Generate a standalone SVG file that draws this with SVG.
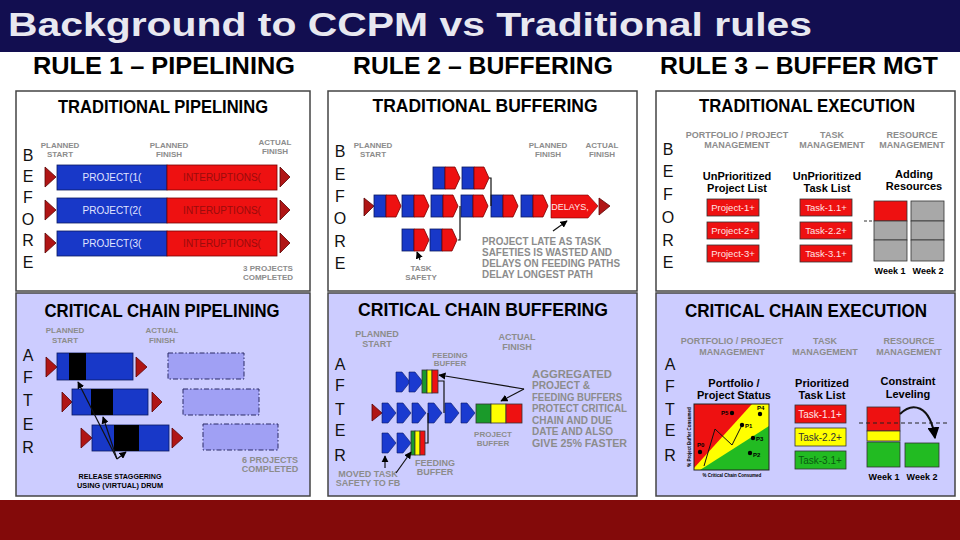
<svg xmlns="http://www.w3.org/2000/svg" width="960" height="540" viewBox="0 0 960 540">
<style>
text{font-family:"Liberation Sans",Arial,sans-serif;}
.ttl{font-weight:bold;fill:#000;text-anchor:middle;font-size:19px;}
.rule{font-weight:bold;fill:#000;font-size:23px;}
.g{font-weight:bold;fill:#8c8c8c;text-anchor:middle;font-size:8px;}
.g9{font-weight:bold;fill:#8c8c8c;text-anchor:middle;font-size:9px;}
.gl{font-weight:bold;fill:#8c8c8c;font-size:10px;}
.bl{font-weight:bold;fill:#000;text-anchor:middle;font-size:11px;}
.wk{font-weight:bold;fill:#000;text-anchor:middle;font-size:9px;}
.let{font-size:16px;fill:#111;text-anchor:middle;}
.pw{fill:#fff;stroke:#444;stroke-width:1.5;}
.pl{fill:#ccccff;stroke:#444;stroke-width:1.5;}
.blue{fill:#1838c8;stroke:#0a1a60;stroke-width:0.8;}
.red{fill:#ee1111;stroke:#700;stroke-width:0.8;}
.dtri{fill:#b01515;stroke:#5a0505;stroke-width:0.8;}
.blk{fill:#000;}
.ln{fill:none;stroke:#111;stroke-width:1.2;}
.sm{font-size:10px;text-anchor:middle;}
.dd{fill:#a0a0f4;stroke:#2a2a66;stroke-width:1;stroke-dasharray:5 2 1.5 2;}
.gray{fill:#a8a8a8;stroke:#333;stroke-width:0.8;}
.bx{stroke:#333;stroke-width:0.8;}
.pt{font-weight:bold;font-size:6px;fill:#000;}
</style>
<defs>
<marker id="ah" viewBox="0 0 10 10" refX="9" refY="5" markerWidth="6" markerHeight="6" orient="auto"><path d="M0,0 L10,5 L0,10 z" fill="#000"/></marker>
<g id="tb"><rect x="0" y="0" width="12" height="22" class="blue"/><path d="M12,0 H22 L27,11 L22,22 H12 Z" class="red"/></g>
<path id="chev" d="M0,0 H6 L14,10 L6,20 H0 Z" fill="#1a3ad0" stroke="#0a1a60" stroke-width="0.6"/>
</defs>

<!-- header -->
<rect x="0" y="0" width="960" height="52" fill="#120e50"/>
<text x="8" y="36" font-size="33" font-weight="bold" fill="#e8e8f0" textLength="804" lengthAdjust="spacingAndGlyphs">Background to CCPM vs Traditional rules</text>
<rect x="0" y="52" width="960" height="448" fill="#fff"/>
<text class="rule" x="33" y="74" textLength="262" lengthAdjust="spacingAndGlyphs">RULE 1 – PIPELINING</text>
<text class="rule" x="353" y="74" textLength="260" lengthAdjust="spacingAndGlyphs">RULE 2 – BUFFERING</text>
<text class="rule" x="660" y="74" textLength="278" lengthAdjust="spacingAndGlyphs">RULE 3 – BUFFER MGT</text>
<rect x="0" y="500" width="960" height="40" fill="#830a0a"/>

<!-- ============ TOP LEFT: TRADITIONAL PIPELINING ============ -->
<g id="trad-pipelining">
<rect class="pw" x="16" y="91" width="294" height="200"/>
<text class="ttl" x="163" y="113" textLength="210" lengthAdjust="spacingAndGlyphs">TRADITIONAL PIPELINING</text>
<g class="let"><text x="28" y="161">B</text><text x="28" y="182">E</text><text x="28" y="203">F</text><text x="28" y="225">O</text><text x="28" y="246">R</text><text x="28" y="268">E</text></g>
<text class="g" x="60" y="148">PLANNED</text><text class="g" x="60" y="157">START</text>
<text class="g" x="169" y="148">PLANNED</text><text class="g" x="169" y="157">FINISH</text>
<text class="g" x="275" y="145">ACTUAL</text><text class="g" x="275" y="154">FINISH</text>
<g id="tp-row1"><path class="dtri" d="M45,167 L56,177 L45,187 Z"/><rect class="blue" x="57" y="165" width="110" height="25"/><rect class="red" x="167" y="165" width="110" height="25"/><path class="dtri" d="M280,167 L290,177 L280,187 Z"/>
<text class="sm" x="112" y="181" fill="#e0e4ff">PROJECT(1(</text><text class="sm" x="222" y="181" fill="#9a0c0c">INTERUPTIONS(</text></g>
<g id="tp-row2"><path class="dtri" d="M45,200 L56,210 L45,220 Z"/><rect class="blue" x="57" y="198" width="110" height="25"/><rect class="red" x="167" y="198" width="110" height="25"/><path class="dtri" d="M280,200 L290,210 L280,220 Z"/>
<text class="sm" x="112" y="214" fill="#e0e4ff">PROJECT(2(</text><text class="sm" x="222" y="214" fill="#9a0c0c">INTERUPTIONS(</text></g>
<g id="tp-row3"><path class="dtri" d="M45,233 L56,243 L45,253 Z"/><rect class="blue" x="57" y="231" width="110" height="25"/><rect class="red" x="167" y="231" width="110" height="25"/><path class="dtri" d="M280,233 L290,243 L280,253 Z"/>
<text class="sm" x="112" y="247" fill="#e0e4ff">PROJECT(3(</text><text class="sm" x="222" y="247" fill="#9a0c0c">INTERUPTIONS(</text></g>
<text class="g" x="268" y="271">3 PROJECTS</text><text class="g" x="268" y="280">COMPLETED</text>
</g>

<!-- ============ TOP MIDDLE: TRADITIONAL BUFFERING ============ -->
<g id="trad-buffering">
<rect class="pw" x="328" y="91" width="309" height="200"/>
<text class="ttl" x="485" y="112" textLength="225" lengthAdjust="spacingAndGlyphs">TRADITIONAL BUFFERING</text>
<g class="let"><text x="340" y="157">B</text><text x="340" y="180">E</text><text x="340" y="202">F</text><text x="340" y="224">O</text><text x="340" y="247">R</text><text x="340" y="269">E</text></g>
<text class="g" x="373" y="148">PLANNED</text><text class="g" x="373" y="157">START</text>
<text class="g" x="548" y="148">PLANNED</text><text class="g" x="548" y="157">FINISH</text>
<text class="g" x="602" y="148">ACTUAL</text><text class="g" x="602" y="157">FINISH</text>
<path class="dtri" d="M364,198 L374,206 L364,216 Z"/>
<use href="#tb" x="374" y="195"/><use href="#tb" x="402" y="195"/><use href="#tb" x="431" y="195"/><use href="#tb" x="461" y="195"/><use href="#tb" x="491" y="195"/><use href="#tb" x="521" y="195"/>
<use href="#tb" x="433" y="167"/><use href="#tb" x="462" y="167"/>
<use href="#tb" x="402" y="229"/><use href="#tb" x="430" y="229"/>
<g id="delays"><path d="M551,195 H588 L598,206 L588,218 H551 Z" fill="#ee1111" stroke="#700" stroke-width="0.6"/><text x="570" y="210" font-size="9" fill="#ffe8e8" text-anchor="middle">DELAYS,</text></g>
<path class="dtri" d="M599,198 L610,206 L599,215 Z"/>
<text class="gl" x="482" y="245" textLength="119" lengthAdjust="spacingAndGlyphs">PROJECT LATE AS TASK</text>
<text class="gl" x="482" y="256" textLength="130" lengthAdjust="spacingAndGlyphs">SAFETIES IS WASTED AND</text>
<text class="gl" x="482" y="267" textLength="138" lengthAdjust="spacingAndGlyphs">DELAYS ON FEEDING PATHS</text>
<text class="gl" x="482" y="278" textLength="111" lengthAdjust="spacingAndGlyphs">DELAY LONGEST PATH</text>
<text class="g" x="421" y="271">TASK</text><text class="g" x="421" y="280">SAFETY</text>
</g>

<!-- ============ TOP RIGHT: TRADITIONAL EXECUTION ============ -->
<g id="trad-execution">
<rect class="pw" x="656" y="91" width="299" height="200"/>
<text class="ttl" x="807" y="112" textLength="216" lengthAdjust="spacingAndGlyphs">TRADITIONAL EXECUTION</text>
<g class="let"><text x="668" y="155">B</text><text x="668" y="177">E</text><text x="668" y="200">F</text><text x="668" y="223">O</text><text x="668" y="246">R</text><text x="668" y="268">E</text></g>
<text class="g9" x="737" y="138">PORTFOLIO / PROJECT</text><text class="g9" x="737" y="148">MANAGEMENT</text>
<text class="g9" x="832" y="138">TASK</text><text class="g9" x="832" y="148">MANAGEMENT</text>
<text class="g9" x="912" y="138">RESOURCE</text><text class="g9" x="912" y="148">MANAGEMENT</text>
<text class="bl" x="737" y="180">UnPrioritized</text><text class="bl" x="737" y="192">Project List</text>
<text class="bl" x="827" y="180">UnPrioritized</text><text class="bl" x="827" y="192">Task List</text>
<text class="bl" x="914" y="178">Adding</text><text class="bl" x="914" y="190">Resources</text>
<g id="proj-list">
<rect class="bx" x="707" y="199" width="52" height="17" fill="#ee1111"/><text x="733" y="211" font-size="9.5" fill="#ffe4e4" text-anchor="middle">Project-1+</text>
<rect class="bx" x="707" y="222" width="52" height="17" fill="#ee1111"/><text x="733" y="234" font-size="9.5" fill="#ffe4e4" text-anchor="middle">Project-2+</text>
<rect class="bx" x="707" y="245" width="52" height="17" fill="#ee1111"/><text x="733" y="257" font-size="9.5" fill="#ffe4e4" text-anchor="middle">Project-3+</text>
</g>
<g id="task-list">
<rect class="bx" x="800" y="199" width="52" height="17" fill="#ee1111"/><text x="826" y="211" font-size="9.5" fill="#ffe4e4" text-anchor="middle">Task-1.1+</text>
<rect class="bx" x="800" y="222" width="52" height="17" fill="#ee1111"/><text x="826" y="234" font-size="9.5" fill="#ffe4e4" text-anchor="middle">Task-2.2+</text>
<rect class="bx" x="800" y="245" width="52" height="17" fill="#ee1111"/><text x="826" y="257" font-size="9.5" fill="#ffe4e4" text-anchor="middle">Task-3.1+</text>
</g>
<g id="resources">
<rect x="874" y="201" width="33" height="20" fill="#ee1111" stroke="#333" stroke-width="0.8"/>
<rect class="gray" x="874" y="221" width="33" height="19"/><rect class="gray" x="874" y="240" width="33" height="21"/>
<rect class="gray" x="911" y="201" width="33" height="20"/><rect class="gray" x="911" y="221" width="33" height="19"/><rect class="gray" x="911" y="240" width="33" height="21"/>
<line x1="864" y1="221" x2="874" y2="221" stroke="#333" stroke-width="1" stroke-dasharray="3 2"/>
<text class="wk" x="890" y="274">Week 1</text><text class="wk" x="928" y="274">Week 2</text>
</g>
</g>

<!-- ============ BOTTOM LEFT: CRITICAL CHAIN PIPELINING ============ -->
<g id="cc-pipelining">
<rect class="pl" x="16" y="293" width="294" height="203"/>
<text class="ttl" x="162" y="317" textLength="235" lengthAdjust="spacingAndGlyphs">CRITICAL CHAIN PIPELINING</text>
<g class="let"><text x="28" y="361">A</text><text x="28" y="383">F</text><text x="28" y="406">T</text><text x="28" y="430">E</text><text x="28" y="453">R</text></g>
<text class="g" x="65" y="333">PLANNED</text><text class="g" x="65" y="343">START</text>
<text class="g" x="162" y="333">ACTUAL</text><text class="g" x="162" y="343">FINISH</text>
<g id="ccp-row1"><path class="dtri" d="M46,357 L57,367 L46,377 Z"/><rect class="blue" x="57" y="353" width="76" height="27"/><rect class="blk" x="69" y="353" width="17" height="27"/><path class="dtri" d="M136,357 L147,367 L136,377 Z"/></g>
<g id="ccp-row2"><path class="dtri" d="M62,392 L72,402 L62,412 Z"/><rect class="blue" x="72" y="389" width="76" height="26"/><rect class="blk" x="91" y="389" width="22" height="26"/><path class="dtri" d="M152,392 L162,402 L152,412 Z"/></g>
<g id="ccp-row3"><path class="dtri" d="M81,428 L92,438 L81,448 Z"/><rect class="blue" x="92" y="425" width="77" height="26"/><rect class="blk" x="114" y="425" width="25" height="26"/><path class="dtri" d="M172,428 L183,438 L172,448 Z"/></g>
<rect class="dd" x="168" y="353" width="76" height="26"/>
<rect class="dd" x="183" y="389" width="76" height="26"/>
<rect class="dd" x="203" y="424" width="75" height="26"/>
<text class="g9" x="270" y="463">6 PROJECTS</text><text class="g9" x="270" y="472">COMPLETED</text>
<text x="120" y="479" font-size="8" font-weight="bold" text-anchor="middle" textLength="83" lengthAdjust="spacingAndGlyphs">RELEASE STAGGERING</text>
<text x="120" y="488" font-size="8" font-weight="bold" text-anchor="middle" textLength="86" lengthAdjust="spacingAndGlyphs">USING (VIRTUAL) DRUM</text>
</g>

<!-- ============ BOTTOM MIDDLE: CRITICAL CHAIN BUFFERING ============ -->
<g id="cc-buffering">
<rect class="pl" x="328" y="293" width="309" height="203"/>
<text class="ttl" x="483" y="316" textLength="250" lengthAdjust="spacingAndGlyphs">CRITICAL CHAIN BUFFERING</text>
<g class="let"><text x="340" y="370">A</text><text x="340" y="391">F</text><text x="340" y="415">T</text><text x="340" y="436">E</text><text x="340" y="461">R</text></g>
<text class="g9" x="377" y="337">PLANNED</text><text class="g9" x="377" y="347">START</text>
<text class="g9" x="517" y="340">ACTUAL</text><text class="g9" x="517" y="350">FINISH</text>
<text class="g" x="450" y="358">FEEDING</text><text class="g" x="450" y="366">BUFFER</text>
<path class="dtri" d="M372,404 L382,413 L372,421 Z"/>
<use href="#chev" x="382" y="403"/><use href="#chev" x="397" y="403"/><use href="#chev" x="412" y="403"/><use href="#chev" x="428" y="403"/><use href="#chev" x="445" y="403"/><use href="#chev" x="461" y="403"/>
<g id="project-buffer"><rect class="bx" x="476" y="404" width="15" height="19" fill="#1a9a2a"/><rect class="bx" x="491" y="404" width="15" height="19" fill="#ffff00"/><rect class="bx" x="506" y="404" width="16" height="19" fill="#ee1111"/></g>
<use href="#chev" x="396" y="372"/><use href="#chev" x="409" y="372"/>
<g id="feed-buffer-1"><rect class="bx" x="422" y="370" width="5" height="23" fill="#1a9a2a"/><rect class="bx" x="427" y="370" width="5" height="23" fill="#ffff00"/><rect class="bx" x="432" y="370" width="6" height="23" fill="#ee1111"/></g>
<use href="#chev" x="382" y="433"/><use href="#chev" x="397" y="433"/>
<g id="feed-buffer-2"><rect class="bx" x="411" y="431" width="4" height="24" fill="#1a9a2a"/><rect class="bx" x="415" y="431" width="5" height="24" fill="#ffff00"/><rect class="bx" x="420" y="431" width="5" height="24" fill="#ee1111"/></g>
<text class="gl" x="532" y="378" textLength="80" lengthAdjust="spacingAndGlyphs">AGGREGATED</text>
<text class="gl" x="532" y="389" textLength="58" lengthAdjust="spacingAndGlyphs">PROJECT &amp;</text>
<text class="gl" x="532" y="401" textLength="90" lengthAdjust="spacingAndGlyphs">FEEDING BUFFERS</text>
<text class="gl" x="532" y="412" textLength="95" lengthAdjust="spacingAndGlyphs">PROTECT CRITICAL</text>
<text class="gl" x="532" y="424" textLength="80" lengthAdjust="spacingAndGlyphs">CHAIN AND DUE</text>
<text class="gl" x="532" y="435" textLength="81" lengthAdjust="spacingAndGlyphs">DATE  AND ALSO</text>
<text class="gl" x="532" y="447" textLength="95" lengthAdjust="spacingAndGlyphs">GIVE 25% FASTER</text>
<text class="g" x="493" y="437">PROJECT</text><text class="g" x="493" y="446">BUFFER</text>
<text class="g9" x="435" y="466">FEEDING</text><text class="g9" x="435" y="475">BUFFER</text>
<text class="g9" x="368" y="477">MOVED TASK</text><text class="g9" x="368" y="486">SAFETY TO FB</text>
</g>

<!-- ============ BOTTOM RIGHT: CRITICAL CHAIN EXECUTION ============ -->
<g id="cc-execution">
<rect class="pl" x="656" y="293" width="299" height="203"/>
<text class="ttl" x="806" y="317" textLength="242" lengthAdjust="spacingAndGlyphs">CRITICAL CHAIN EXECUTION</text>
<g class="let"><text x="670" y="370">A</text><text x="670" y="392">F</text><text x="670" y="415">T</text><text x="670" y="436">E</text><text x="670" y="461">R</text></g>
<text class="g9" x="732" y="344" font-size="10">PORTFOLIO / PROJECT</text><text class="g9" x="732" y="355" font-size="10">MANAGEMENT</text>
<text class="g9" x="825" y="344" font-size="10">TASK</text><text class="g9" x="825" y="355" font-size="10">MANAGEMENT</text>
<text class="g9" x="909" y="344" font-size="10">RESOURCE</text><text class="g9" x="909" y="355" font-size="10">MANAGEMENT</text>
<text class="bl" x="734" y="387">Portfolio /</text><text class="bl" x="734" y="399">Project Status</text>
<text class="bl" x="822" y="387">Prioritized</text><text class="bl" x="822" y="399">Task List</text>
<text class="bl" x="908" y="385">Constraint</text><text class="bl" x="908" y="398">Leveling</text>
<g id="status-chart">
<rect x="694" y="404" width="75" height="66" fill="#ffff00"/>
<path d="M694,404 H752 L694,468 Z" fill="#ee1111"/>
<path d="M700,470 L769,426 V470 Z" fill="#22bb22"/>
<rect x="694" y="404" width="75" height="66" fill="none" stroke="#222" stroke-width="1"/>
<polyline points="704,466 715,429 732,445 742,425" fill="none" stroke="#111" stroke-width="1"/>
<g fill="#000"><circle cx="732" cy="413" r="2.2"/><circle cx="760" cy="414" r="2.2"/><circle cx="742" cy="425" r="2.2"/><circle cx="753" cy="438" r="2.2"/><circle cx="750" cy="453" r="2.2"/><circle cx="700" cy="452" r="2.2"/></g>
<text class="pt" x="721" y="415">P5</text><text class="pt" x="757" y="410">P4</text><text class="pt" x="745" y="428">P1</text><text class="pt" x="756" y="441">P3</text><text class="pt" x="753" y="457">P2</text><text class="pt" x="697" y="447">P0</text>
<text x="732" y="477" font-size="4.5" font-weight="bold" text-anchor="middle">% Critical Chain Consumed</text>
<text x="0" y="0" font-size="4.5" font-weight="bold" text-anchor="middle" transform="translate(691,437) rotate(-90)">% Project Buffer Consumed</text>
</g>
<g id="prio-list">
<rect class="bx" x="795" y="405" width="51" height="18" fill="#ee1111"/><text x="820" y="418" font-size="10" fill="#ffe4e4" text-anchor="middle">Task-1.1+</text>
<rect class="bx" x="795" y="428" width="51" height="18" fill="#ffff00"/><text x="820" y="441" font-size="10" fill="#333" text-anchor="middle">Task-2.2+</text>
<rect class="bx" x="795" y="451" width="51" height="18" fill="#22bb22"/><text x="820" y="464" font-size="10" fill="#0a5a10" text-anchor="middle">Task-3.1+</text>
</g>
<g id="leveling">
<rect class="bx" x="867" y="407" width="33" height="24" fill="#ee1111"/>
<rect class="bx" x="867" y="431" width="33" height="10" fill="#ffff00"/>
<rect class="bx" x="867" y="442" width="33" height="25" fill="#22bb22"/>
<rect class="bx" x="905" y="443" width="34" height="24" fill="#22bb22"/>
<line x1="859" y1="423" x2="949" y2="423" stroke="#222" stroke-width="1" stroke-dasharray="4 3"/>
<text class="wk" x="884" y="480">Week 1</text><text class="wk" x="922" y="480">Week 2</text>
</g>
</g>

<!-- ============ CONNECTORS ============ -->
<g id="connectors">
<polyline class="ln" points="458,240 460,240 460,206"/>
<polyline class="ln" points="489,178 491,178 491,206"/>
<line class="ln" x1="553" y1="231" x2="567" y2="221" marker-end="url(#ah)"/>
<line class="ln" x1="420" y1="260" x2="417" y2="252" marker-end="url(#ah)"/>
<line class="ln" x1="117" y1="459" x2="78" y2="382" marker-end="url(#ah)"/>
<line class="ln" x1="117" y1="459" x2="103" y2="417" marker-end="url(#ah)"/>
<line class="ln" x1="117" y1="459" x2="126" y2="452" marker-end="url(#ah)"/>
<polyline class="ln" points="438,381 444,381 444,413"/>
<polyline class="ln" points="425,443 428,443 428,413"/>
<line class="ln" x1="524" y1="389" x2="439" y2="375" marker-end="url(#ah)"/>
<line class="ln" x1="524" y1="389" x2="501" y2="401" marker-end="url(#ah)"/>
<line class="ln" x1="385" y1="468" x2="385" y2="456" marker-end="url(#ah)"/>
<line class="ln" x1="396" y1="473" x2="411" y2="452" marker-end="url(#ah)"/>
<path d="M900,414 C912,402 930,404 935,438" fill="none" stroke="#111" stroke-width="2" marker-end="url(#ah)"/>
</g>
</svg>
